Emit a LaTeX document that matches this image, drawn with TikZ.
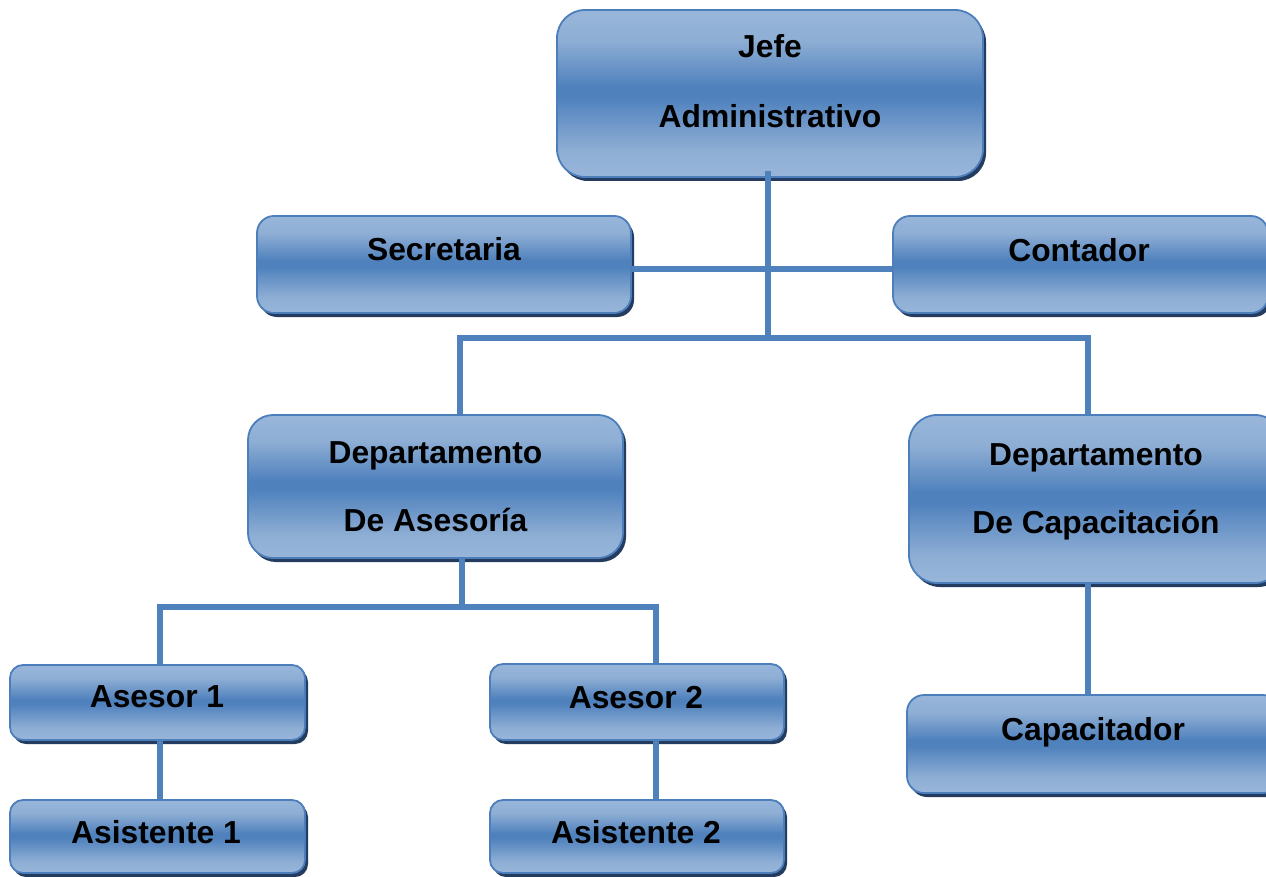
\documentclass[tikz,border=0pt]{standalone}
\usepackage{fontspec}
\setmainfont{Liberation Sans}
\usetikzlibrary{shadows}
\definecolor{lightb}{RGB}{152,182,218}
\definecolor{lightc}{RGB}{142,174,212}
\definecolor{midb}{RGB}{79,129,189}
\definecolor{edgeb}{RGB}{76,126,188}
\definecolor{shadowb}{RGB}{36,60,96}
\definecolor{linkb}{RGB}{79,129,189}
% TikZ fits the middle 50bp of a 100bp shading to the path
\pgfdeclareverticalshading{boxshade}{100bp}{color(0bp)=(lightb); color(25bp)=(lightb); color(33bp)=(lightc); color(49bp)=(midb); color(52bp)=(midb); color(66bp)=(lightc); color(75bp)=(lightb); color(100bp)=(lightb)}
\tikzset{
  boxst/.style={draw=edgeb, line width=1.8pt, shading=boxshade, inner sep=0pt,
    drop shadow={shadow xshift=3pt, shadow yshift=-4pt, opacity=1, fill=shadowb}},
  lbl/.style={anchor=base, font=\fontsize{31.8}{38}\selectfont\bfseries, inner sep=0pt},
  link/.style={draw=linkb, line width=6pt}
}
\begin{document}
\begin{tikzpicture}[x=1pt,y=-1pt]
\useasboundingbox (0,0) rectangle (1266,877);
\fill[white] (0,0) rectangle (1266,877);
\clip (0,0) rectangle (1266,877);
% boxes
\node[boxst, rounded corners=28pt, minimum width=426pt, minimum height=167pt] (jefe) at (770,93.5) {};
\node[boxst, rounded corners=17pt, minimum width=374pt, minimum height=97pt] (sec) at (444,264.5) {};
\node[boxst, rounded corners=17pt, minimum width=375pt, minimum height=97pt] (cont) at (1080.5,264.5) {};
\node[boxst, rounded corners=25pt, minimum width=375pt, minimum height=143pt] (depA) at (435.5,486.5) {};
\node[boxst, rounded corners=28pt, minimum width=374pt, minimum height=168pt] (depC) at (1096,499) {};
\node[boxst, rounded corners=17pt, minimum width=373pt, minimum height=98pt] (cap) at (1093.5,744) {};
\node[boxst, rounded corners=13pt, minimum width=295pt, minimum height=75pt] (a1) at (157.5,702.5) {};
\node[boxst, rounded corners=13pt, minimum width=294pt, minimum height=76pt] (a2) at (637,702) {};
\node[boxst, rounded corners=13pt, minimum width=295pt, minimum height=73pt] (s1) at (157.5,836.5) {};
\node[boxst, rounded corners=13pt, minimum width=294pt, minimum height=73pt] (s2) at (637,836.5) {};
% junction coordinates
\coordinate (j1) at (768,338);
\coordinate (m) at (768,269);
\coordinate (b1L) at (460,338);
\coordinate (b1R) at (1088,338);
\coordinate (j2) at (462,607);
\coordinate (b2L) at (160,607);
\coordinate (b2R) at (656,607);
% connectors
\draw[link] ([yshift=7pt]jefe.south -| j1) -- (j1);
\draw[link] (sec.east |- m) -- (cont.west |- m);
\draw[link] (depA.north -| b1L) -- (b1L) -- (b1R) -- (depC.north -| b1R);
\draw[link] (depA.south -| j2) -- (j2);
\draw[link] (a1.north -| b2L) -- (b2L) -- (b2R) -- (a2.north -| b2R);
\draw[link] (a1.south -| b2L) -- (s1.north -| b2L);
\draw[link] (a2.south -| b2R) -- (s2.north -| b2R);
\draw[link] (depC.south -| b1R) -- (cap.north -| b1R);
% labels
\node[lbl] (tJefe) at (770,58) {Jefe};
\node[lbl] (tAdm) at (770,128) {Administrativo};
\node[lbl] (tSec) at (444,261) {Secretaria};
\node[lbl] (tCont) at (1079,262) {Contador};
\node[lbl] (tDA1) at (435.5,463) {Departamento};
\node[lbl] (tDA2) at (435.5,531) {De Asesoría};
\node[lbl] (tDC1) at (1096,465) {Departamento};
\node[lbl] (tDC2) at (1096,533) {De Capacitación};
\node[lbl] (tCap) at (1093,740) {Capacitador};
\node[lbl] (tA1) at (157,707) {Asesor 1};
\node[lbl] (tA2) at (636,708) {Asesor 2};
\node[lbl] (tS1) at (156,843) {Asistente 1};
\node[lbl] (tS2) at (636,843) {Asistente 2};
\end{tikzpicture}
\end{document}
